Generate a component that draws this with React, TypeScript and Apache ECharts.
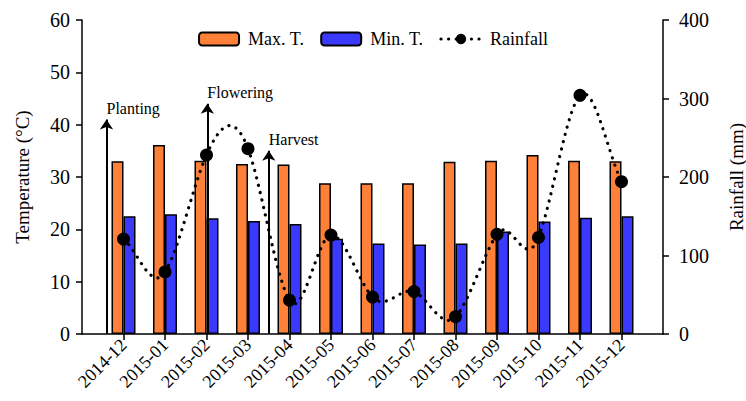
import React, { useEffect, useRef } from "react";
import * as echarts from "echarts";

const months = [
  "2014-12", "2015-01", "2015-02", "2015-03", "2015-04", "2015-05", "2015-06",
  "2015-07", "2015-08", "2015-09", "2015-10", "2015-11", "2015-12",
];
const maxTemp = [33.0, 36.1, 33.1, 32.5, 32.4, 28.8, 28.8, 28.8, 32.9, 33.1, 34.2, 33.1, 33.0];
const minTemp = [22.5, 22.9, 22.1, 21.6, 21.0, 18.2, 17.3, 17.1, 17.3, 19.6, 21.5, 22.2, 22.5];
const rainfall = [121, 79, 228, 236, 43, 126, 47, 54, 22, 127, 123, 304, 194];

const stageNames = ["Planting", "Flowering", "Harvest"];
const stagePositions = [0.59, 3.02, 4.5]; // in month-slot units (2014-12 = 1)
const stageHeights = [41, 44, 35]; // temperature axis units

const FONT = "Liberation Serif";
const TENSION = 0.77;

export default function App() {
  const ref = useRef<HTMLDivElement>(null);
  useEffect(() => {
    if (!ref.current) return;
    const chart = echarts.init(ref.current, undefined, { renderer: "svg" });
    const cats = ["", ...months, ""];
    const pad = (a: number[]) => [null, ...a, null];
    const axisLine = { show: true, lineStyle: { color: "#000", width: 1.5 } };
    const dotted = { stroke: "#000", lineWidth: 3.2, lineDash: [0.1, 7.5], lineCap: "round", fill: null };

    const renderCurve = (params: any, api: any) => {
      const i = params.dataIndex;
      if (i >= rainfall.length - 1) return null;
      const pts = rainfall.map((v, k) => api.coord([k + 1, v]));
      const n = pts.length;
      const slope = (k: number) => {
        if (k === 0) return pts[1][1] - pts[0][1];
        if (k === n - 1) return pts[n - 1][1] - pts[n - 2][1];
        return TENSION * (pts[k + 1][1] - pts[k - 1][1]);
      };
      const p0 = pts[i];
      const p1 = pts[i + 1];
      const dx = p1[0] - p0[0];
      return {
        type: "bezierCurve",
        shape: {
          x1: p0[0],
          y1: p0[1],
          cpx1: p0[0] + dx / 3,
          cpy1: p0[1] + slope(i) / 3,
          cpx2: p1[0] - dx / 3,
          cpy2: p1[1] - slope(i + 1) / 3,
          x2: p1[0],
          y2: p1[1],
        },
        style: dotted,
        silent: true,
      };
    };

    const tickText = { fontFamily: FONT, fontSize: 20, color: "#000" };

    chart.setOption({
      animation: false,
      textStyle: { fontFamily: FONT, color: "#000" },
      grid: { left: 82, right: 83, top: 20, bottom: 67, outerBoundsMode: "none", containLabel: false },
      legend: {
        top: 25,
        left: "center",
        itemWidth: 40,
        itemHeight: 13,
        itemGap: 16,
        textStyle: { fontFamily: FONT, fontSize: 18, color: "#000", padding: [0, 0, 0, 4] },
        data: [
          { name: "Max. T." },
          { name: "Min. T." },
          {
            name: "Rainfall",
            lineStyle: { color: "#000", width: 3.2, type: [0.1, 7.5], cap: "round", opacity: 1 },
          },
        ],
      },
      xAxis: [
        {
          type: "category",
          data: cats,
          boundaryGap: false,
          axisLine,
          axisTick: {
            show: true,
            length: 6,
            lineStyle: { color: "#000", width: 1.5 },
            interval: (i: number) => i > 0 && i < cats.length - 1,
          },
          axisLabel: {
            rotate: 45,
            ...tickText,
            fontSize: 18,
            margin: 8,
            interval: 0,
          },
          splitLine: { show: false },
        },
        {
          type: "value",
          min: 0,
          max: 14,
          show: false,
          splitLine: { show: false },
        },
      ],
      yAxis: [
        {
          type: "value",
          min: 0,
          max: 60,
          interval: 10,
          name: "Temperature (°C)",
          nameLocation: "middle",
          nameGap: 50,
          nameRotate: 90,
          nameTextStyle: { fontFamily: FONT, fontSize: 19, color: "#000" },
          axisLine,
          axisTick: { show: true, length: 6, lineStyle: { color: "#000", width: 1.5 } },
          axisLabel: { ...tickText, margin: 12 },
          splitLine: { show: false },
        },
        {
          type: "value",
          min: 0,
          max: 400,
          interval: 100,
          name: "Rainfall (mm)",
          nameLocation: "middle",
          nameGap: 64,
          nameRotate: 90,
          nameTextStyle: { fontFamily: FONT, fontSize: 19, color: "#000" },
          axisLine,
          axisTick: { show: true, length: 6, lineStyle: { color: "#000", width: 1.5 } },
          axisLabel: { ...tickText, margin: 16 },
          splitLine: { show: false },
        },
      ],
      series: [
        {
          name: "Max. T.",
          type: "bar",
          data: pad(maxTemp),
          barWidth: 12,
          barGap: "0%",
          itemStyle: { color: "#FF8139", borderColor: "#000", borderWidth: 1.5 },
        },
        {
          name: "Min. T.",
          type: "bar",
          data: pad(minTemp),
          barWidth: 12,
          barGap: "0%",
          itemStyle: { color: "#3A3AFF", borderColor: "#000", borderWidth: 1.5 },
        },
        {
          name: "Rainfall",
          type: "line",
          yAxisIndex: 1,
          data: pad(rainfall),
          symbol: "circle",
          symbolSize: 13,
          itemStyle: { color: "#000" },
          lineStyle: { color: "#000", width: 3.2, type: [0.1, 7.5], cap: "round", opacity: 0 },
          z: 6,
        },
        {
          name: "rainfallCurve",
          type: "custom",
          yAxisIndex: 1,
          data: rainfall.map((v, k) => [k + 1, v]),
          renderItem: renderCurve,
          silent: true,
          z: 5,
        },
        {
          name: "stages",
          type: "scatter",
          xAxisIndex: 1,
          yAxisIndex: 0,
          data: [],
          markLine: {
            silent: true,
            symbol: ["none", "arrow"],
            symbolSize: 10,
            lineStyle: { color: "#000", width: 2, type: "solid" },
            label: {
              show: true,
              position: "end",
              formatter: "{b}",
              align: "left",
              distance: 3,
              fontSize: 16,
              fontFamily: FONT,
              color: "#000",
            },
            data: stageNames.map((n, i) => [
              { name: n, coord: [stagePositions[i], 0] },
              { coord: [stagePositions[i], stageHeights[i]] },
            ]),
          },
        },
      ],
    });
    return () => chart.dispose();
  }, []);
  return (
    <div
      ref={ref}
      style={{ position: "absolute", left: 0, top: 0, width: 746, height: 401 }}
    />
  );
}
